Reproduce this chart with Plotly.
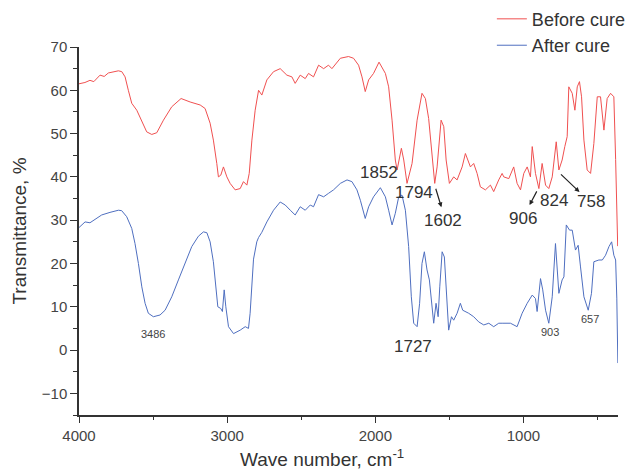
import plotly.graph_objects as go

# Before cure (red)
wn_before = [4000, 3960, 3926, 3900, 3858, 3830, 3802, 3770, 3734, 3711, 3689, 3667, 3644, 3610, 3576,
             3543, 3509, 3475, 3430, 3374, 3311, 3250, 3182, 3149, 3115, 3093, 3070, 3059, 3043, 3025,
             3002, 2980, 2946, 2912, 2890, 2867, 2851, 2833, 2811, 2788, 2766, 2732, 2687, 2642, 2597,
             2563, 2541, 2507, 2473, 2451, 2417, 2383, 2349, 2316, 2293, 2236, 2181, 2147, 2113, 2090,
             2068, 2045, 2012, 1975, 1932, 1910, 1887, 1865, 1853, 1824, 1808, 1786, 1752, 1718, 1685,
             1662, 1640, 1617, 1599, 1583, 1556, 1538, 1522, 1500, 1471, 1448, 1414, 1392, 1374, 1358,
             1336, 1313, 1291, 1257, 1223, 1201, 1167, 1144, 1133, 1099, 1066, 1043, 1020, 998, 975,
             953, 941, 919, 896, 874, 851, 829, 806, 779, 761, 739, 721, 705, 694, 671,
             653, 637, 622, 608, 592, 570, 547, 525, 502, 480, 457, 435, 412, 390, 378, 364]
t_before = [61.5, 61.8, 62.3, 62.0, 63.5, 63.2, 64.0, 64.3, 64.5, 64.3, 63.1, 60.0, 57.0, 55.4, 52.7,
            50.4, 49.8, 50.2, 53.1, 56.2, 58.1, 57.3, 56.6, 55.8, 52.4, 48.5, 43.1, 40.0, 40.4, 42.3,
            40.0, 38.5, 37.0, 37.3, 38.9, 38.1, 40.8, 48.5, 55.4, 60.0, 58.9, 62.4, 64.3, 65.0, 63.5,
            63.1, 61.6, 63.5, 62.7, 63.9, 63.1, 65.8, 65.0, 65.8, 65.0, 67.4, 67.8, 67.4, 65.8, 63.1,
            59.7, 62.4, 63.9, 66.5, 63.9, 60.8, 53.1, 43.9, 41.6, 46.6, 43.9, 38.5, 43.1, 53.1, 59.3,
            58.1, 53.5, 43.9, 38.5, 42.3, 53.1, 51.6, 43.9, 38.5, 40.0, 39.3, 42.3, 45.4, 43.9, 42.3,
            43.1, 40.8, 37.7, 37.0, 38.1, 36.6, 39.3, 40.8, 40.0, 39.6, 42.3, 38.5, 37.0, 40.8, 42.3,
            40.0, 47.0, 40.8, 37.3, 43.1, 38.1, 37.3, 40.0, 48.1, 41.6, 43.9, 47.0, 49.3, 60.8, 59.3,
            55.4, 60.8, 62.0, 58.5, 48.5, 41.6, 40.8, 47.7, 58.5, 58.5, 50.8, 58.1, 59.3, 58.5, 44.0, 24.0]

# After cure (blue)
wn_after = [4000, 3959, 3926, 3892, 3847, 3791, 3734, 3712, 3678, 3644, 3622, 3599, 3576, 3554, 3532,
            3498, 3453, 3419, 3374, 3329, 3284, 3239, 3194, 3160, 3137, 3115, 3093, 3077, 3063, 3043,
            3032, 3020, 3009, 2991, 2968, 2957, 2912, 2878, 2856, 2845, 2822, 2800, 2788, 2766, 2732,
            2687, 2642, 2608, 2574, 2541, 2507, 2473, 2439, 2417, 2383, 2349, 2316, 2282, 2236, 2191,
            2158, 2124, 2101, 2068, 2045, 2012, 1966, 1932, 1910, 1887, 1865, 1842, 1820, 1797, 1775,
            1757, 1741, 1718, 1701, 1685, 1669, 1651, 1635, 1622, 1606, 1590, 1576, 1565, 1549, 1534,
            1520, 1505, 1486, 1471, 1448, 1426, 1410, 1392, 1370, 1336, 1302, 1268, 1234, 1201, 1167,
            1144, 1088, 1043, 1009, 975, 941, 919, 908, 885, 870, 851, 829, 806, 784, 761,
            739, 727, 711, 689, 671, 649, 631, 615, 592, 563, 541, 525, 491, 468, 446,
            423, 405, 390, 378, 370, 363]
t_after = [28.3, 29.6, 29.4, 30.2, 31.2, 31.8, 32.3, 32.2, 30.8, 28.1, 24.6, 20.0, 14.6, 10.8, 8.5,
           7.7, 8.1, 9.2, 12.3, 16.2, 20.0, 23.9, 26.3, 27.3, 27.1, 25.0, 20.4, 14.6, 10.0, 9.6,
           8.9, 13.9, 10.0, 5.4, 4.2, 3.8, 4.6, 5.4, 5.0, 8.5, 21.0, 25.0, 26.0, 27.2, 29.6,
           32.3, 34.2, 33.5, 32.3, 31.2, 33.1, 32.3, 33.5, 33.1, 35.9, 35.4, 36.2, 37.0, 38.5, 39.3,
           38.9, 37.0, 34.6, 30.4, 33.1, 35.4, 37.5, 35.4, 32.3, 28.9, 31.6, 35.4, 35.8, 32.3, 23.9,
           12.3, 6.2, 5.4, 10.8, 20.0, 22.7, 18.5, 16.2, 12.3, 6.2, 10.8, 7.7, 14.6, 22.7, 21.5,
           12.3, 4.6, 7.7, 6.9, 8.5, 10.8, 9.2, 8.9, 8.5, 7.7, 6.5, 5.8, 6.2, 5.4, 6.2,
           6.2, 6.2, 5.4, 8.5, 10.8, 12.7, 11.9, 8.9, 16.5, 13.9, 9.2, 6.2, 12.3, 24.6, 13.1,
           16.2, 16.9, 28.9, 27.7, 27.7, 23.1, 24.2, 19.2, 12.3, 9.2, 13.1, 20.4, 20.8, 20.8, 21.9,
           23.9, 25.0, 21.9, 20.8, 12.0, -3.0]

x_ticks = [4000, 3000, 2000, 1000]
y_ticks = [-10, 0, 10, 20, 30, 40, 50, 60, 70]

# peak labels: (text, wavenumber, transmittance)
labels_big = [("1852", 1973, 41.1), ("1794", 1736, 36.5), ("1602", 1541, 30.0),
              ("906", 1000, 30.5), ("824", 797, 34.6), ("758", 541, 34.2), ("1727", 1743, 0.9)]
labels_small = [("3486", 3500, 3.7), ("903", 824, 4.2), ("657", 554, 7.2)]
# arrows: (head wn, head T, tail wn, tail T)
arrows = [(1554, 33.0, 1595, 37.6), (959, 33.5, 905, 37.0), (622, 36.5, 757, 40.9)]

FONT = "Liberation Sans, Arial, sans-serif"

fig = go.Figure()
fig.add_trace(go.Scatter(x=wn_before, y=t_before, mode="lines", name="Before cure",
                         line=dict(color="#f05050", width=1)))
fig.add_trace(go.Scatter(x=wn_after, y=t_after, mode="lines", name="After cure",
                         line=dict(color="#4f6fc0", width=1)))

ann = []
for txt, xv, yv in labels_big:
    ann.append(dict(x=xv, y=yv, xref="x", yref="y", text=txt, showarrow=False,
                    font=dict(family=FONT, size=17, color="#333")))
for txt, xv, yv in labels_small:
    ann.append(dict(x=xv, y=yv, xref="x", yref="y", text=txt, showarrow=False,
                    font=dict(family=FONT, size=11, color="#444")))
for hx, hy, tx, ty in arrows:
    ann.append(dict(x=hx, y=hy, ax=tx, ay=ty, xref="x", yref="y", axref="x", ayref="y",
                    text="", showarrow=True, arrowhead=2, arrowsize=0.8, arrowwidth=1.2,
                    arrowcolor="#222", standoff=0, startstandoff=0))
ann.append(dict(x=0.451, y=-0.117, xref="paper", yref="paper", text="Wave number, cm<sup>-1</sup>",
                showarrow=False, xanchor="center", yanchor="middle",
                font=dict(family=FONT, size=19, color="#333")))

fig.update_layout(
    width=628, height=461,
    margin=dict(l=71, r=18, t=39, b=54, autoexpand=False),
    paper_bgcolor="white", plot_bgcolor="white",
    font=dict(family=FONT, color="#333"),
    showlegend=True,
    legend=dict(x=0.766, y=1.126, xanchor="left", yanchor="top", bgcolor="rgba(0,0,0,0)",
                font=dict(family=FONT, size=18, color="#333"), tracegroupgap=0),
    annotations=ann,
    xaxis=dict(range=[4000, 362], tickvals=x_ticks, ticks="outside", ticklen=6, tickwidth=1.3,
               tickcolor="#333", showline=True, linecolor="#333", linewidth=1.5, showgrid=False,
               zeroline=False, tickfont=dict(family=FONT, size=15, color="#444"), automargin=False,
               minor=dict(dtick=500, ticks="outside", ticklen=3, tickwidth=1.3, tickcolor="#333",
                          showgrid=False)),
    yaxis=dict(range=[-15, 70], tickvals=y_ticks, ticks="outside", ticklen=7, tickwidth=1.3,
               tickcolor="#333", showline=True, linecolor="#333", linewidth=1.5, showgrid=False,
               zeroline=False, tickfont=dict(family=FONT, size=15, color="#444"), automargin=False,
               title=dict(text="Transmittance, %", font=dict(family=FONT, size=19, color="#333"),
                          standoff=10),
               minor=dict(dtick=5, ticks="outside", ticklen=4, tickwidth=1.3, tickcolor="#333",
                          showgrid=False)),
)

fig.write_html("out.html")
